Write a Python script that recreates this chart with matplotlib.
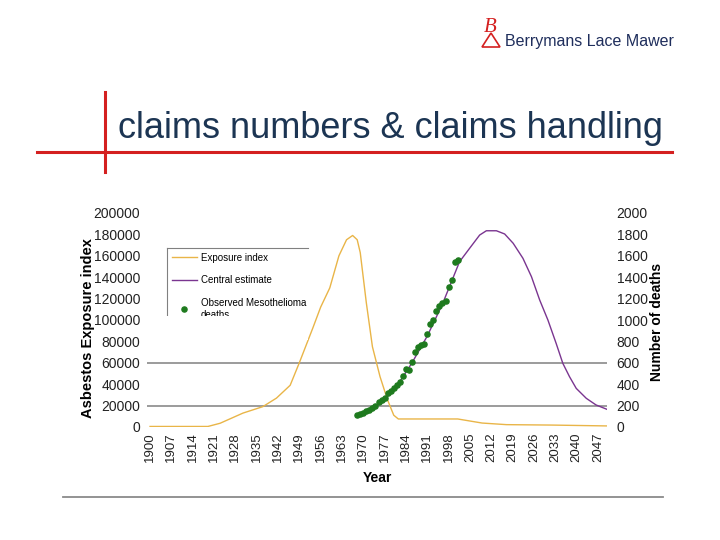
import matplotlib
matplotlib.use("Agg")
import matplotlib.pyplot as plt
from matplotlib.lines import Line2D
from matplotlib.patches import Rectangle, Polygon

plt.rcParams['font.family'] = ['Liberation Sans', 'DejaVu Sans']

# exposure index (left axis)
exp_years = [1900, 1919, 1923, 1930.5, 1937, 1941.5, 1946, 1949, 1953.5, 1956, 1959, 1962,
             1964.5, 1966.5, 1968, 1969, 1971, 1973, 1975.5, 1978, 1980, 1981.5, 2001,
             2009, 2017, 2032, 2050]
exp_values = [500, 500, 3500, 13000, 19000, 27000, 39000, 60000, 93000, 112000, 130000, 160000,
              175000, 179000, 175000, 163000, 116000, 75000, 47000, 25000, 11000, 7500, 7500,
              3700, 2200, 1800, 1000]

# central estimate of deaths (right axis)
est_years = [1968, 1971, 1976, 1981, 1986, 1991, 1996, 2001.6, 2004.9, 2008.2, 2010.4, 2013.7,
             2016.4, 2019.2, 2022.4, 2025.2, 2027.9, 2030.6, 2033.3, 2035.5, 2037.7, 2039.9,
             2043.2, 2046.4, 2050]
est_values = [100, 140, 225, 380, 600, 850, 1150, 1545, 1670, 1794, 1834, 1834,
              1804, 1717, 1577, 1405, 1187, 1000, 782, 595, 470, 361, 268, 206, 165]

# observed mesothelioma deaths
obs_years = list(range(1968, 2002))
obs_values = [110, 125, 135, 145, 160, 175, 195, 230, 250, 270, 320, 340, 360, 390, 425, 475,
              540, 535, 610, 700, 750, 770, 775, 865, 960, 1000, 1085, 1130, 1160, 1180, 1310,
              1370, 1540, 1560]

year_ticks = list(range(1900, 2050, 7))
left_ticks = list(range(0, 200001, 20000))
right_ticks = list(range(0, 2001, 200))

fig = plt.figure(figsize=(7.2, 5.4), dpi=100)
fig.patch.set_facecolor('white')

ax = fig.add_axes([147 / 720, 1 - 427 / 540, 460 / 720, 214 / 540])
ax2 = ax.twinx()

for g in [20000, 60000]:
    ax.axhline(g, color='#808080', lw=1.1, zorder=1)

l1, = ax.plot(exp_years, exp_values, color='#E9B548', lw=1.0, zorder=3)
l2, = ax2.plot(est_years, est_values, color='#7A3590', lw=1.0, zorder=3)
l3, = ax2.plot(obs_years, obs_values, 'o', color='#1E7A1E', ms=3.7, zorder=4)

ax.set_xlim(1899, 2050)
ax.set_ylim(0, 200000)
ax2.set_ylim(0, 2000)
ax.set_xticks(year_ticks)
ax.set_xticklabels([str(y) for y in year_ticks], rotation=90, fontsize=9.5)
ax.set_yticks(left_ticks)
ax.set_yticklabels([str(v) for v in left_ticks], fontsize=10)
ax2.set_yticks(right_ticks)
ax2.set_yticklabels([str(v) for v in right_ticks], fontsize=10)
ax.tick_params(length=0, pad=4, colors='#222222')
ax.tick_params(axis='y', pad=5)
ax2.tick_params(length=0, pad=7, colors='#222222')
for a in (ax, ax2):
    for s in a.spines.values():
        s.set_visible(False)

ax.set_ylabel('Asbestos Exposure index', fontsize=10.5, fontweight='bold')
ax.yaxis.set_label_coords(-52 / 460, 99 / 214)
ax2.set_ylabel('Number of deaths', fontsize=10, fontweight='bold')
ax2.yaxis.set_label_coords(503 / 460, 105 / 214)
ax.set_xlabel('Year', fontsize=10, fontweight='bold', labelpad=6)

leg = ax2.legend([l1, l2, l3], ['Exposure index', 'Central estimate', 'Observed Mesothelioma\ndeaths'],
                 loc='upper left', bbox_to_anchor=(15 / 460, 1 - 30 / 214), fontsize=7,
                 frameon=False, handlelength=2.6, labelspacing=1.3, borderpad=0.5,
                 handletextpad=0.4)
leg.set_zorder(6)
# only the top and left edges of the legend box show, and its bottom is cut off
fig.add_artist(Line2D([167 / 720, 308 / 720], [1 - 248 / 540] * 2, color='#808080', lw=0.8))
fig.add_artist(Line2D([167 / 720] * 2, [1 - 248 / 540, 1 - 316 / 540], color='#808080', lw=0.8))
fig.patches.append(Rectangle((162 / 720, 1 - 340 / 540), 146 / 720, 24 / 540,
                             transform=fig.transFigure, facecolor='white', edgecolor='none', zorder=10))

# slide decoration
red = '#D42020'
fig.add_artist(Line2D([37 / 720, 672 / 720], [1 - 152 / 540] * 2, color=red, lw=2.2))
fig.add_artist(Line2D([105 / 720] * 2, [1 - 92 / 540, 1 - 172 / 540], color=red, lw=2.2))
fig.add_artist(Line2D([63 / 720, 663 / 720], [1 - 497 / 540] * 2, color='#8A8A8A', lw=1.3))
fig.text(118 / 720, 1 - 128 / 540, 'claims numbers & claims handling', fontsize=26,
         color='#1C3553', va='center', ha='left')

# logo
fig.text(505 / 720, 1 - 42 / 540, 'Berrymans Lace Mawer', fontsize=11.5, color='#1F2E5C',
         va='center', ha='left')
fig.text(490 / 720, 1 - 27 / 540, 'B', fontsize=15, color=red, family='Liberation Serif',
         style='italic', va='center', ha='center')
fig.add_artist(Polygon([[482 / 720, 1 - 47 / 540], [500 / 720, 1 - 47 / 540], [491 / 720, 1 - 33 / 540]],
                       closed=True, fill=False, edgecolor=red, lw=1.2, transform=fig.transFigure))

fig.savefig('out.png', dpi=100, facecolor='white')
